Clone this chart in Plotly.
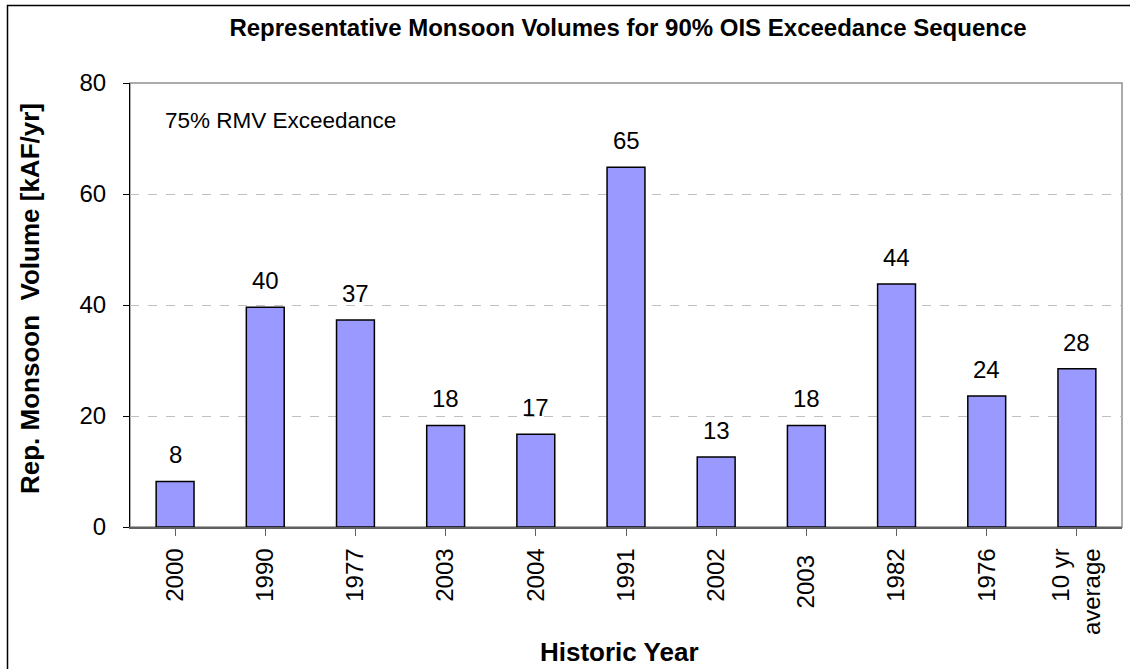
import plotly.graph_objects as go

categories = ["2000", "1990", "1977", "2003", "2004", "1991", "2002", "2003 ", "1982", "1976", "10 yr<br>average"]
values = [8.2, 39.6, 37.3, 18.3, 16.7, 64.8, 12.6, 18.3, 43.8, 23.6, 28.5]
y_ticks = [0, 20, 40, 60, 80]

title_text = "Representative Monsoon Volumes for 90% OIS Exceedance Sequence"
y_title = "Rep. Monsoon  Volume [kAF/yr]"
x_title = "Historic Year"
note_text = "75% RMV Exceedance"

FONT = "Liberation Sans, Arial, sans-serif"
W, H = 1130, 669
ML, MR, MT, MB = 130, 8, 83, 142
pw = W - ML - MR
ph = H - MT - MB

xs = list(range(len(categories)))

fig = go.Figure()
fig.add_trace(go.Bar(
    x=xs,
    y=values,
    marker=dict(color="#9999FF", line=dict(color="black", width=1.5)),
    width=0.42,
    hoverinfo="skip",
))

annotations = [
    dict(x=x, y=v, xref="x", yref="y", text=f"{v:.0f}", showarrow=False,
         yanchor="bottom", yshift=11, font=dict(size=24, family=FONT, color="black"))
    for x, v in zip(xs, values)
]
annotations += [
    dict(text=note_text, xref="paper", yref="paper", x=(163 - ML) / pw, y=1 - (120 - MT) / ph,
         xanchor="left", yanchor="middle", showarrow=False, font=dict(size=22.5, family=FONT)),
    dict(text="<b>" + x_title + "</b>", xref="paper", yref="paper", x=(619 - ML) / pw,
         y=-(652 - MT - ph) / ph, xanchor="center", yanchor="middle", showarrow=False,
         font=dict(size=26, family=FONT)),
    dict(text="<b>" + y_title + "</b>", xref="paper", yref="paper", x=(30 - ML) / pw,
         y=1 - (299 - MT) / ph, xanchor="center", yanchor="middle", showarrow=False,
         textangle=-90, font=dict(size=26, family=FONT)),
]

fig.update_layout(
    width=W, height=H,
    margin=dict(l=ML, r=MR, t=MT, b=MB),
    paper_bgcolor="white", plot_bgcolor="white",
    showlegend=False,
    font=dict(family=FONT, color="black"),
    title=dict(text="<b>" + title_text + "</b>", x=628 / W, xref="container",
               xanchor="center", y=1 - 28 / H, yanchor="middle", font=dict(size=24, family=FONT)),
    xaxis=dict(
        tickmode="array", tickvals=xs, ticktext=categories,
        range=[-0.5, len(categories) - 0.5],
        tickangle=-90, tickfont=dict(size=24, family=FONT),
        ticks="outside", ticklen=7, tickcolor="#606060", tickson="boundaries",
        showline=True, linecolor="#606060", linewidth=1.5,
        showgrid=False, zeroline=False,
        ticklabelstandoff=3,
    ),
    yaxis=dict(
        range=[0, 80], tickvals=y_ticks,
        tickfont=dict(size=24, family=FONT),
        ticks="outside", ticklen=6, tickcolor="black",
        showline=True, linecolor="black", linewidth=1,
        showgrid=True, gridcolor="#c0c0c0", griddash="dash", gridwidth=1,
        zeroline=False, ticklabelstandoff=12,
    ),
    annotations=annotations,
    shapes=[
        dict(type="rect", xref="paper", yref="paper", x0=0, x1=1, y0=0, y1=1,
             line=dict(color="#909090", width=1.5), layer="below"),
        dict(type="rect", xref="paper", yref="paper",
             x0=(7.5 - ML) / pw, x1=(W + 20 - ML) / pw,
             y0=-(H + 20 - MT - ph) / ph, y1=1 + (MT - 5.5) / ph,
             line=dict(color="black", width=1.5), layer="above"),
    ],
)

fig.write_html("out.html", config={"displayModeBar": False},
               post_script="document.body.style.margin='0';")
